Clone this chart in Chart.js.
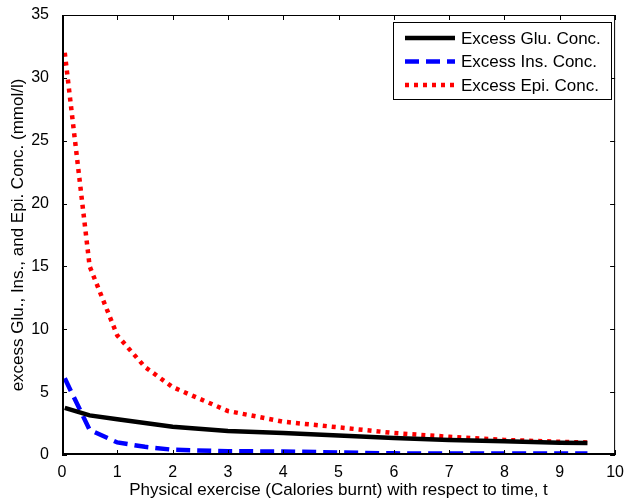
<!DOCTYPE html>
<html>
<head>
<meta charset="utf-8">
<script src="https://cdn.jsdelivr.net/npm/chart.js@4.4.1/dist/chart.umd.min.js"></script>
<style>
  html, body { margin: 0; padding: 0; background: #fff; }
  #wrap { width: 624px; height: 502px; }
</style>
</head>
<body>
<div id="wrap"><canvas id="lineChart"></canvas></div>
<script>
// time points (x) and series values
const timeValues = [0.05, 0.5, 1, 1.5, 2, 3, 4, 5, 6, 7, 8, 9, 9.5];
const gluValues = [3.75, 3.15, 2.85, 2.55, 2.25, 1.9, 1.75, 1.55, 1.35, 1.2, 1.1, 0.97, 0.95];
const insValues = [6.1, 2.0, 1.0, 0.65, 0.42, 0.3, 0.28, 0.2, 0.13, 0.12, 0.12, 0.12, 0.12];
const epiValues = [32, 15, 9.5, 7.0, 5.4, 3.5, 2.65, 2.2, 1.75, 1.45, 1.2, 1.05, 1.0];

const seriesLabels = ["Excess Glu. Conc.", "Excess Ins. Conc.", "Excess Epi. Conc."];
const xTicks = [0, 1, 2, 3, 4, 5, 6, 7, 8, 9, 10];
const yTicks = [0, 5, 10, 15, 20, 25, 30, 35];

const FONT = "'Liberation Sans', Arial, sans-serif";

let jFPoints = ({ inX, inY }) => inX.map((x, i) => ({ x: x, y: inY[i] }));

// box + inward ticks on all four sides, MATLAB style
const boxPlugin = {
    id: "boxPlugin",
    afterDraw: (chart) => {
        const { ctx, chartArea: a, scales } = chart;
        ctx.save();
        ctx.strokeStyle = "#000";
        ctx.lineWidth = 1;
        ctx.setLineDash([]);
        ctx.strokeRect(a.left + 0.5, a.top + 0.5, a.right - a.left - 1, a.bottom - a.top - 1);
        ctx.beginPath();
        xTicks.forEach(v => {
            const px = Math.round(scales.x.getPixelForValue(v)) + 0.5;
            ctx.moveTo(px, a.bottom); ctx.lineTo(px, a.bottom - 5);
            ctx.moveTo(px, a.top); ctx.lineTo(px, a.top + 5);
        });
        yTicks.forEach(v => {
            const py = Math.round(scales.y.getPixelForValue(v)) + 0.5;
            ctx.moveTo(a.left, py); ctx.lineTo(a.left + 5, py);
            ctx.moveTo(a.right, py); ctx.lineTo(a.right - 5, py);
        });
        ctx.stroke();
        ctx.lineWidth = 2;
        ctx.beginPath();
        ctx.moveTo(a.left + 1, a.top); ctx.lineTo(a.left + 1, a.bottom - 1); ctx.lineTo(a.right, a.bottom - 1);
        ctx.stroke();

        // legend box inside the plot
        const lx = 393, ly = 22, lw = 218, lh = 77;
        ctx.fillStyle = "#fff";
        ctx.fillRect(lx, ly, lw, lh);
        ctx.lineWidth = 1;
        ctx.strokeRect(lx + 0.5, ly + 0.5, lw, lh);
        ctx.font = "17px " + FONT;
        ctx.textBaseline = "middle";
        chart.data.datasets.forEach((ds, i) => {
            const y = ly + 16 + i * 23.5;
            ctx.strokeStyle = ds.borderColor;
            ctx.lineWidth = ds.borderWidth;
            ctx.setLineDash(ds.borderDash || []);
            ctx.beginPath();
            ctx.moveTo(405, y); ctx.lineTo(455, y);
            ctx.stroke();
            ctx.setLineDash([]);
            ctx.fillStyle = "#000";
            ctx.fillText(ds.label, 461, y + 1);
        });
        ctx.restore();
    }
};

const StartFunc = () => {
    const ctx = document.getElementById("lineChart");

    new Chart(ctx, {
        type: "line",
        data: {
            datasets: [
                { label: seriesLabels[0], data: jFPoints({ inX: timeValues, inY: gluValues }), borderColor: "#000000", borderWidth: 4.5 },
                { label: seriesLabels[1], data: jFPoints({ inX: timeValues, inY: insValues }), borderColor: "#0000ff", borderWidth: 4.5, borderDash: [14, 7] },
                { label: seriesLabels[2], data: jFPoints({ inX: timeValues, inY: epiValues }), borderColor: "#ff0000", borderWidth: 4.5, borderDash: [4, 5] }
            ]
        },
        options: {
            responsive: false,
            animation: false,
            devicePixelRatio: 1,
            layout: { padding: { top: 15, right: 8, left: 0, bottom: 0 } },
            elements: { point: { radius: 0 }, line: { tension: 0, fill: false } },
            plugins: { legend: { display: false }, tooltip: { enabled: false } },
            scales: {
                x: {
                    type: "linear", min: 0, max: 10,
                    afterBuildTicks: (s) => { s.ticks = xTicks.map(v => ({ value: v })); },
                    afterFit: (s) => { s.height = 47; },
                    grid: { display: false },
                    border: { display: false },
                    ticks: { color: "#000", font: { family: FONT, size: 16 }, padding: 0, maxRotation: 0 },
                    title: { display: true, text: "Physical exercise (Calories burnt) with respect to time, t", color: "#000", font: { family: FONT, size: 17 }, padding: { top: 0, bottom: 1 } }
                },
                y: {
                    type: "linear", min: 0, max: 35,
                    afterBuildTicks: (s) => { s.ticks = yTicks.map(v => ({ value: v })); },
                    afterFit: (s) => { s.width = 62; },
                    grid: { display: false },
                    border: { display: false },
                    ticks: { color: "#000", font: { family: FONT, size: 16 }, padding: 5 },
                    title: { display: true, text: "excess Glu., Ins., and Epi. Conc. (mmol/l)", color: "#000", font: { family: FONT, size: 17 }, padding: { top: 8, bottom: 0 } }
                }
            }
        },
        plugins: [boxPlugin]
    });
};

document.getElementById("lineChart").width = 624;
document.getElementById("lineChart").height = 502;
StartFunc();
</script>
</body>
</html>
